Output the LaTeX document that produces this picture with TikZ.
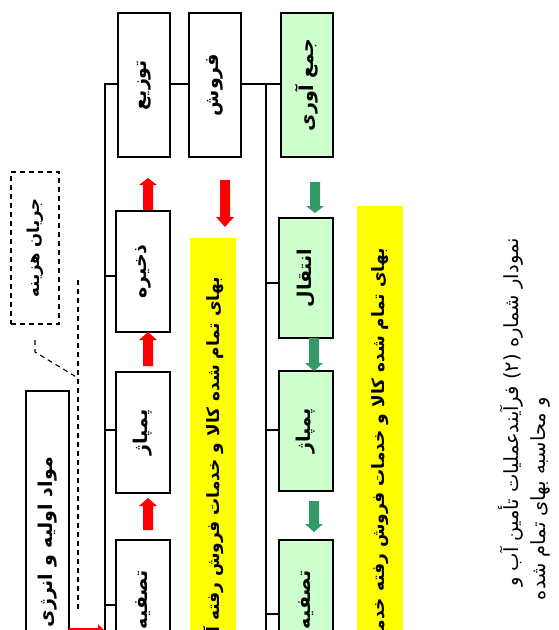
\documentclass[tikz,border=0pt]{standalone}
\usepackage{fontspec}
\newfontfamily\fa[Script=Arabic]{DejaVu Sans}
\TeXXeTstate=1
\definecolor{boxgreen}{RGB}{204,255,204}
\definecolor{arrgreen}{RGB}{51,153,102}
\definecolor{baryellow}{RGB}{255,255,0}
\tikzset{
  pics/barr/.style n args={2}{code={%
    \fill (0,-5) -- ({#1-#2},-5) -- ({#1-#2},-9) -- (#1,0) -- ({#1-#2},9) -- ({#1-#2},5) -- (0,5) -- cycle;}},
}
\begin{document}
\begin{tikzpicture}[x=1pt,y=-1pt,
  box/.style={draw=black, line width=1.3pt, fill=white, inner sep=0pt},
  gbox/.style={box, fill=boxgreen},
  dbox/.style={draw=black, line width=1.1pt, dash pattern=on 5pt off 4pt, inner sep=0pt},
  ybar/.style={fill=baryellow, draw=none, inner sep=0pt},
  lbl/.style={rotate=90, font=\fa\bfseries\fontsize{19}{22}\selectfont, inner sep=0pt},
  ylbl/.style={rotate=90, font=\fa\bfseries\fontsize{17}{20}\selectfont, inner sep=0pt},
  captxt/.style={rotate=90, font=\fa\fontsize{19.5}{22}\selectfont, inner sep=0pt},
  bus/.style={line width=1.2pt},
  redarr/.style={color=red},
  grnarr/.style={color=arrgreen},
]
\useasboundingbox (0,0) rectangle (558,630);
\clip (0,0) rectangle (558,630);

% top row
\node[box, minimum width=52pt, minimum height=144pt] (tozi) at (144,85) {};
\node[box, minimum width=52pt, minimum height=144pt] (forosh) at (215,85) {};
\node[gbox, minimum width=52pt, minimum height=144pt] (jam) at (307,85) {};
\node[lbl] (tozit) at (tozi) {\beginR توزیع\endR};
\node[lbl] (forosht) at (forosh) {\beginR فروش\endR};
\node[lbl] (jamt) at (jam) {\beginR جمع آوری\endR};

% left column
\node[box, minimum width=54pt, minimum height=121pt] (zakh) at (143,271.5) {};
\node[box, minimum width=54pt, minimum height=121pt] (pompA) at (143,432.5) {};
\node[box, minimum width=54pt, minimum height=121pt] (tasA) at (143,600.5) {};
\node[lbl] (zakht) at (zakh) {\beginR ذخیره\endR};
\node[lbl] (pompAt) at (pompA) {\beginR پمپاژ\endR};
\node[lbl, anchor=east] (tasAt) at (143,570) {\beginR تصفیه\endR};

% right column
\node[gbox, minimum width=54pt, minimum height=120pt] (ent) at (306,278) {};
\node[gbox, minimum width=54pt, minimum height=120pt] (pompB) at (306,431) {};
\node[gbox, minimum width=54pt, minimum height=120pt] (tasB) at (306,600) {};
\node[lbl] (entt) at (ent) {\beginR انتقال\endR};
\node[lbl] (pompBt) at (pompB) {\beginR پمپاژ\endR};
\node[lbl, anchor=east] (tasBt) at (306,570) {\beginR تصفیه\endR};

% yellow bars
\node[ybar, minimum width=46pt, minimum height=462pt, anchor=north west] (yA) at (190,238) {};
\node[ybar, minimum width=46pt, minimum height=494pt, anchor=north west] (yB) at (357,206) {};
\node[ylbl, anchor=east] (yAt) at (213,277) {\beginR بهای تمام شده کالا و خدمات فروش رفته آب\endR};
\node[ylbl, anchor=east] (yBt) at (380,248) {\beginR بهای تمام شده کالا و خدمات فروش رفته خدمات\endR};

% far left
\node[dbox, minimum width=48pt, minimum height=152pt] (jar) at (35,248) {};
\node[lbl, font=\fa\bfseries\fontsize{16.5}{20}\selectfont] (jart) at (jar) {\beginR جریان هزینه\endR};
\node[box, minimum width=43pt, minimum height=302pt] (mav) at (47.5,542) {};
\node[lbl, anchor=east] (mavt) at (47.5,457) {\beginR مواد اولیه و انرژی\endR};

% dashed leader
\coordinate (dl1) at (35,340);
\coordinate (dl2) at (35,352);
\coordinate (dl3) at (78,378);
\coordinate (dtop) at (78,280);
\coordinate (dbot) at (78,610);
\draw[dbox] (dl1) -- (dl2) -- (dl3);
\draw[dbox] (dtop) -- (dbot);

% left bus
\coordinate (bA0) at (105,84);
\coordinate (bA1) at (105,276);
\coordinate (bA2) at (105,430);
\coordinate (bA3) at (105,605);
\coordinate (bAe) at (105,640);
\draw[bus] (tozi.west |- bA0) -- (bA0) -- (bAe);
\draw[bus] (bA1) -- (zakh.west |- bA1);
\draw[bus] (bA2) -- (pompA.west |- bA2);
\draw[bus] (bA3) -- (tasA.west |- bA3);
\draw[bus] (tozi.east |- bA0) -- (forosh.west |- bA0);

% right bus
\coordinate (bB0) at (266,84);
\coordinate (bB1) at (266,283);
\coordinate (bB2) at (266,430);
\coordinate (bB3) at (266,614);
\coordinate (bBe) at (266,640);
\draw[bus] (forosh.east |- bB0) -- (jam.west |- bB0);
\draw[bus] (bB0) -- (bBe);
\draw[bus] (bB1) -- (ent.west |- bB1);
\draw[bus] (bB2) -- (pompB.west |- bB2);
\draw[bus] (bB3) -- (tasB.west |- bB3);

% block arrows
\pic[redarr, rotate=90] at (148,210) {barr={32}{7}};
\pic[redarr, rotate=90] at (148,366) {barr={34}{8}};
\pic[redarr, rotate=90] at (148,530) {barr={32}{8}};
\pic[redarr, rotate=-90] at (225,180) {barr={47}{10}};
\pic[redarr] at (69,633) {barr={38}{9}};
\pic[grnarr, rotate=-90] at (315,182) {barr={31}{7}};
\pic[grnarr, rotate=-90] at (314,338) {barr={33}{8}};
\pic[grnarr, rotate=-90] at (314,501) {barr={31}{8}};

% caption
\node[captxt, anchor=east] (cap1) at (511,238) {\beginR نمودار شماره (۲) فرآیندعملیات تأمین آب و\endR};
\node[captxt, anchor=east] (cap2) at (540,397) {\beginR و محاسبه بهای تمام شده\endR};
\end{tikzpicture}
\end{document}
